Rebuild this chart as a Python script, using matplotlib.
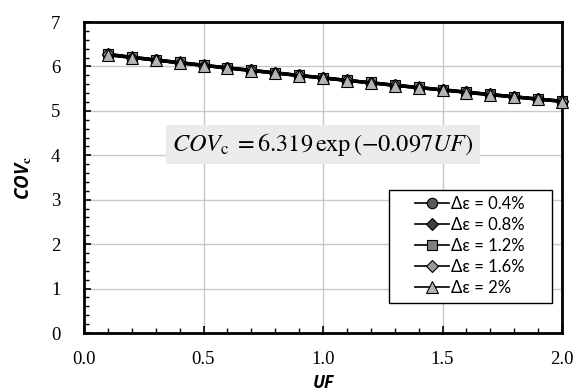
import matplotlib
matplotlib.use("Agg")
import matplotlib.pyplot as plt
from matplotlib.ticker import MultipleLocator
from matplotlib.patches import Rectangle

uf = [0.1, 0.2, 0.3, 0.4, 0.5, 0.6, 0.7, 0.8, 0.9, 1.0,
      1.1, 1.2, 1.3, 1.4, 1.5, 1.6, 1.7, 1.8, 1.9, 2.0]
cov_04 = [6.26, 6.20, 6.14, 6.08, 6.02, 5.96, 5.91, 5.85, 5.79, 5.74,
          5.68, 5.63, 5.57, 5.52, 5.47, 5.42, 5.36, 5.31, 5.26, 5.21]
cov_08 = [6.27, 6.21, 6.15, 6.09, 6.03, 5.97, 5.91, 5.86, 5.80, 5.74,
          5.69, 5.63, 5.58, 5.53, 5.47, 5.42, 5.37, 5.32, 5.27, 5.22]
cov_12 = [6.28, 6.21, 6.15, 6.09, 6.03, 5.97, 5.92, 5.86, 5.80, 5.75,
          5.69, 5.64, 5.58, 5.53, 5.48, 5.43, 5.37, 5.32, 5.27, 5.22]
cov_16 = [6.27, 6.20, 6.14, 6.08, 6.02, 5.97, 5.91, 5.85, 5.80, 5.74,
          5.69, 5.63, 5.58, 5.52, 5.47, 5.42, 5.37, 5.32, 5.26, 5.22]
cov_20 = [6.26, 6.20, 6.14, 6.08, 6.02, 5.96, 5.90, 5.85, 5.79, 5.74,
          5.68, 5.63, 5.57, 5.52, 5.47, 5.41, 5.36, 5.31, 5.26, 5.21]
labels = ["Δε = 0.4%", "Δε = 0.8%", "Δε = 1.2%", "Δε = 1.6%", "Δε = 2%"]
series = [cov_04, cov_08, cov_12, cov_16, cov_20]
markers = ["o", "D", "s", "D", "^"]
mfaces = ["#5a5a5a", "#3f3f3f", "#7f7f7f", "#9a9a9a", "#b4b4b4"]
msizes = [7.5, 6.5, 7.5, 6.5, 8.5]

plt.rcParams["mathtext.fontset"] = "stix"

W, H = 576, 392
fig = plt.figure(figsize=(W/100, H/100), dpi=100)
ax = fig.add_axes([84/W, 1 - 333/H, (562-84)/W, (333-22)/H])

for ys, lab, m, fc, ms in zip(series, labels, markers, mfaces, msizes):
    ax.plot(uf, ys, color="black", lw=2.2, marker=m, markerfacecolor=fc,
            markeredgecolor="black", markeredgewidth=0.8, markersize=ms,
            label=lab, clip_on=False, zorder=3)

ax.set_xlim(0, 2.0)
ax.set_ylim(0, 7)
ax.xaxis.set_minor_locator(MultipleLocator(0.1))
ax.yaxis.set_minor_locator(MultipleLocator(0.2))
ax.grid(True, which="major", color="#c8c8c8", lw=1.0, zorder=0)
ax.set_axisbelow(True)
ax.tick_params(which="both", direction="in", top=False, right=False, color="black")
ax.tick_params(which="major", length=5, width=1.2)
ax.tick_params(axis="x", which="major", pad=13)
ax.tick_params(axis="y", which="major", pad=17)
ax.tick_params(which="minor", length=3.5, width=1.0)
ax.set_xticks([0, 0.5, 1.0, 1.5, 2.0])
ax.set_xticklabels(["0.0", "0.5", "1.0", "1.5", "2.0"], family="Liberation Serif", fontsize=13.5)
ax.set_yticks(range(8))
ax.set_yticklabels([str(i) for i in range(8)], family="Liberation Serif", fontsize=13.5)
for s in ax.spines.values():
    s.set_linewidth(2.0)
    s.set_color("black")

ax.set_xlabel("UF", family="Open Sans", fontweight="bold", style="italic", fontsize=12.5, labelpad=4)
ax.set_ylabel(r"COV$_{\mathbf{c}}$", family="Open Sans", fontweight="bold", style="italic",
              fontsize=13.5, labelpad=12)

ax.text(1.0, 4.25, r"$COV_{\mathrm{c}}\;=6.319\,\exp\left(-0.097UF\right)$",
        fontsize=17.5, ha="center", va="center", zorder=4,
        bbox=dict(boxstyle="square,pad=0.25", facecolor="#ebebeb", edgecolor="none"))

# legend frame (Excel-style, with wide side padding)
frame = Rectangle((389/W, 1 - 303/H), (552-389)/W, (303-190)/H, transform=fig.transFigure,
                  facecolor="white", edgecolor="black", lw=1.0, zorder=5)
fig.add_artist(frame)
leg = fig.legend(*ax.get_legend_handles_labels(), loc="center",
                 bbox_to_anchor=(470/W, 1 - 246/H), bbox_transform=fig.transFigure,
                 frameon=False, prop={"family": "Lato", "size": 12}, handlelength=2.0,
                 handletextpad=0.15, labelspacing=0.3, borderpad=0.0, borderaxespad=0.0)
leg.set_zorder(6)
for line in leg.get_lines():
    line.set_linewidth(1.2)

fig.savefig("out.png", dpi=100)
